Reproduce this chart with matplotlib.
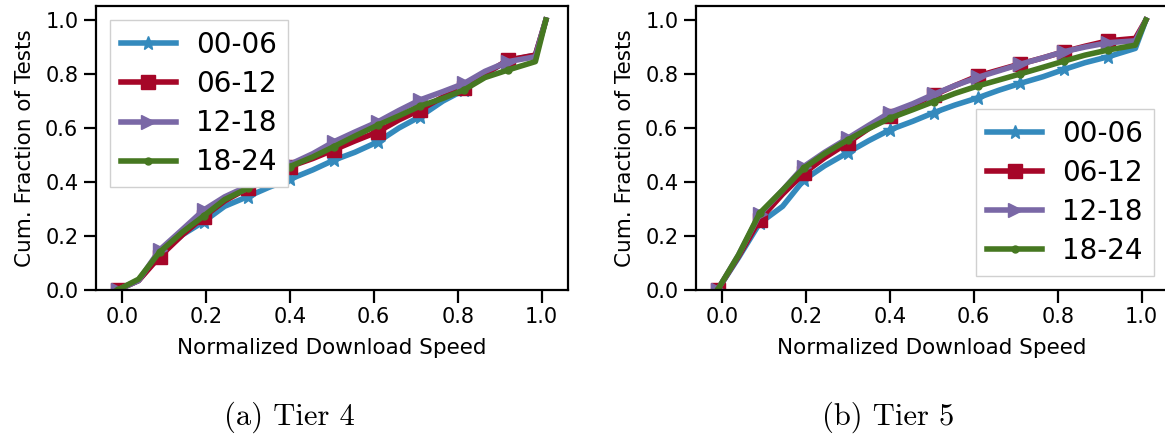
import matplotlib
matplotlib.use("Agg")
import matplotlib.pyplot as plt

# Normalized download speed at which each cumulative fraction is sampled
speed = [-0.01, 0.04, 0.09, 0.145, 0.195, 0.245, 0.30, 0.35, 0.40, 0.455, 0.505,
         0.555, 0.61, 0.66, 0.71, 0.765, 0.815, 0.865, 0.92, 0.985, 1.01]

hours = ["00-06", "06-12", "12-18", "18-24"]

# Tier 4 CDFs per time-of-day window
tier4_00_06 = [0, 0.035, 0.13, 0.205, 0.253, 0.31, 0.346, 0.38, 0.41, 0.445, 0.481,
               0.51, 0.549, 0.60, 0.642, 0.70, 0.741, 0.80, 0.85, 0.87, 1.0]
tier4_06_12 = [0, 0.035, 0.123, 0.205, 0.271, 0.33, 0.377, 0.425, 0.457, 0.487, 0.519,
               0.552, 0.586, 0.63, 0.667, 0.715, 0.747, 0.80, 0.852, 0.87, 1.0]
tier4_12_18 = [0, 0.035, 0.148, 0.225, 0.296, 0.345, 0.385, 0.43, 0.465, 0.505, 0.549,
               0.585, 0.623, 0.665, 0.704, 0.735, 0.765, 0.81, 0.846, 0.864, 1.0]
tier4_18_24 = [0, 0.04, 0.14, 0.215, 0.274, 0.335, 0.377, 0.42, 0.457, 0.493, 0.531,
               0.57, 0.611, 0.645, 0.681, 0.71, 0.741, 0.787, 0.815, 0.846, 1.0]

# Tier 5 CDFs per time-of-day window
tier5_00_06 = [0, 0.12, 0.247, 0.31, 0.407, 0.46, 0.509, 0.553, 0.593, 0.625, 0.657,
               0.685, 0.712, 0.74, 0.765, 0.79, 0.817, 0.842, 0.864, 0.895, 1.0]
tier5_06_12 = [0, 0.125, 0.26, 0.355, 0.432, 0.49, 0.545, 0.598, 0.645, 0.685, 0.722,
               0.757, 0.793, 0.815, 0.837, 0.86, 0.883, 0.903, 0.923, 0.932, 1.0]
tier5_12_18 = [0, 0.13, 0.28, 0.37, 0.457, 0.51, 0.562, 0.61, 0.657, 0.69, 0.725,
               0.757, 0.788, 0.812, 0.836, 0.86, 0.883, 0.90, 0.916, 0.923, 1.0]
tier5_18_24 = [0, 0.13, 0.284, 0.37, 0.451, 0.505, 0.556, 0.598, 0.636, 0.668, 0.698,
               0.728, 0.756, 0.778, 0.80, 0.825, 0.848, 0.87, 0.889, 0.907, 1.0]

tier4 = [tier4_00_06, tier4_06_12, tier4_12_18, tier4_18_24]
tier5 = [tier5_00_06, tier5_06_12, tier5_12_18, tier5_18_24]

colors = ["#348ABD", "#A60628", "#7A68A6", "#467821"]
markers = ["*", "s", ">", "."]
ticks = [0.0, 0.2, 0.4, 0.6, 0.8, 1.0]

W, H = 1165, 434
fig = plt.figure(figsize=(W / 100, H / 100), dpi=100)


def panel(left_px, series, legend_loc):
    ax = fig.add_axes([left_px / W, (H - 290) / H, 472 / W, 284 / H])
    for vals, lab, c, m in zip(series, hours, colors, markers):
        ax.plot(speed, vals, color=c, marker=m, markersize=10, lw=4,
                markevery=slice(0, 19, 2), label=lab)
    ax.set_xlim(-0.062, 1.062)
    ax.set_ylim(0, 1.052)
    ax.set_xticks(ticks)
    ax.set_yticks(ticks)
    ax.tick_params(labelsize=15, length=9, width=1.6)
    for s in ax.spines.values():
        s.set_linewidth(1.6)
    ax.set_xlabel("Normalized Download Speed", fontsize=15.5, labelpad=8)
    ax.set_ylabel("Cum. Fraction of Tests", fontsize=15.5, labelpad=7)
    ax.legend(loc=legend_loc, fontsize=20, labelspacing=0.4,
              handlelength=2.0, handletextpad=0.7, borderpad=0.4,
              borderaxespad=0.5, framealpha=1.0, fancybox=False,
              edgecolor="#d0d0d0")
    return ax


panel(95.7, tier4, "upper left")
panel(695.7, tier5, "lower right")

fig.text(289 / W, 1 - 417 / H, "(a) Tier 4", family="cmr10", fontsize=22,
         ha="center", va="center")
fig.text(888 / W, 1 - 417 / H, "(b) Tier 5", family="cmr10", fontsize=22,
         ha="center", va="center")

fig.savefig("out.png", dpi=100)
